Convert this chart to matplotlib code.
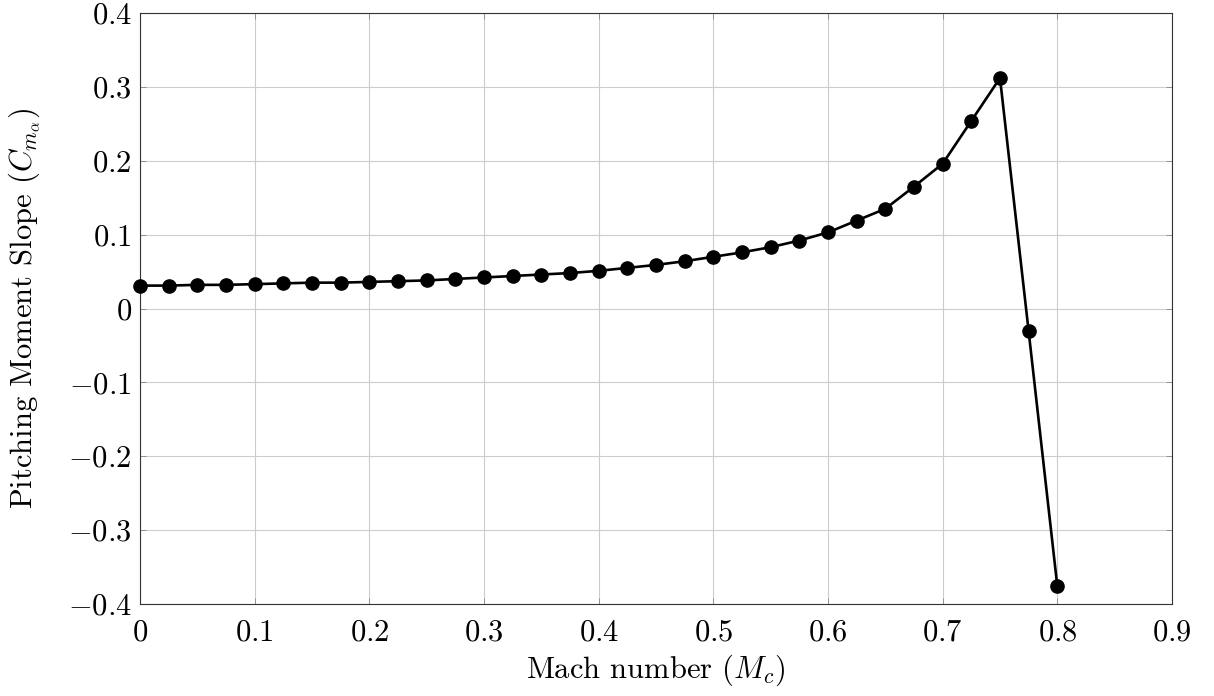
import numpy as np
import matplotlib
matplotlib.use("Agg")
import matplotlib.pyplot as plt
from matplotlib.ticker import FuncFormatter

# Mach number and pitching moment slope
mach = [0.0, 0.025, 0.05, 0.075, 0.1, 0.125, 0.15, 0.175, 0.2, 0.225,
        0.25, 0.275, 0.3, 0.325, 0.35, 0.375, 0.4, 0.425, 0.45, 0.475,
        0.5, 0.525, 0.55, 0.575, 0.6, 0.625, 0.65, 0.675, 0.7, 0.725,
        0.75, 0.775, 0.8]
cm_alpha = [0.031, 0.031, 0.032, 0.032, 0.033, 0.034, 0.035, 0.035, 0.036, 0.037,
            0.038, 0.040, 0.042, 0.044, 0.046, 0.048, 0.051, 0.055, 0.059, 0.064,
            0.070, 0.076, 0.083, 0.092, 0.103, 0.119, 0.135, 0.165, 0.196, 0.254,
            0.312, -0.031, -0.376]

x_ticks = np.arange(0, 0.91, 0.1)
y_ticks = np.arange(-0.4, 0.41, 0.1)

plt.rcParams["font.family"] = "serif"
plt.rcParams["font.serif"] = ["cmr10", "DejaVu Serif"]
plt.rcParams["mathtext.fontset"] = "cm"
plt.rcParams["axes.unicode_minus"] = True

fig = plt.figure(figsize=(12.14, 6.96), dpi=100)
ax = fig.add_axes([0.1153, 0.1322, 0.8501, 0.8491])

ax.plot(mach, cm_alpha, color="black", lw=1.9, marker="o", markersize=9.5, zorder=3,
        clip_on=False)

ax.set_xlim(0, 0.9)
ax.set_ylim(-0.4, 0.4)
ax.set_xticks(x_ticks)
ax.set_yticks(y_ticks)


def fmt(v, pos):
    v = round(v, 2)
    if abs(v) < 1e-9:
        return "$0$"
    return "$%g$" % v


ax.xaxis.set_major_formatter(FuncFormatter(fmt))
ax.yaxis.set_major_formatter(FuncFormatter(fmt))
ax.tick_params(direction="in", length=4, width=0.6, color="#888888",
               labelsize=22, top=True, right=True)
ax.tick_params(axis="x", pad=11)
ax.tick_params(axis="y", pad=6)
ax.grid(True, color="#cccccc", lw=0.8)
ax.set_axisbelow(True)
for s in ax.spines.values():
    s.set_linewidth(0.8)
    s.set_color("#333333")

ax.set_xlabel("Mach number ($M_c$)", fontsize=22, labelpad=4)
ax.set_ylabel(r"Pitching Moment Slope ($C_{m_\alpha}$)", fontsize=22, labelpad=18)

fig.savefig("out.png", dpi=100)
